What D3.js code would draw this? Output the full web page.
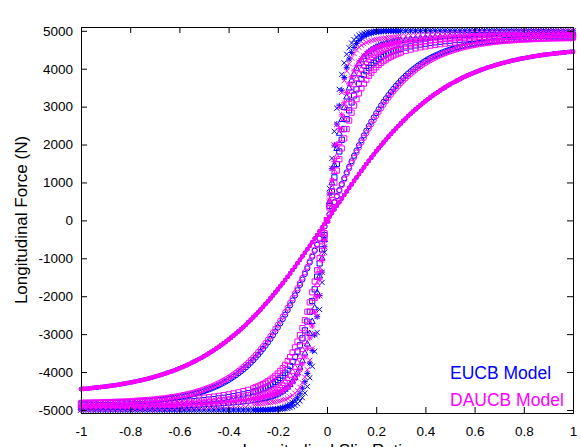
<!DOCTYPE html>
<html>
<head>
<meta charset="utf-8">
<script src="https://cdn.jsdelivr.net/npm/d3@7"></script>
<style>
  body { margin: 0; background: #fff; }
  svg { display: block; }
  text { font-family: "Liberation Sans", Arial, Helvetica, sans-serif; }
</style>
</head>
<body>
<svg id="chart" width="581" height="447"></svg>
<script>
// Longitudinal slip ratio samples for the steep curves (finer spacing near zero slip)
const slipRatio = [-1,-0.98,-0.96,-0.94,-0.92,-0.9,-0.88,-0.86,-0.84,-0.82,-0.8,-0.78,-0.76,-0.74,-0.72,-0.7,-0.68,-0.66,-0.64,-0.62,-0.6,-0.58,-0.56,-0.54,-0.52,-0.5,-0.48,-0.46,-0.44,-0.42,-0.4,-0.38,-0.36,-0.34,-0.32,-0.3,
  -0.29,-0.28,-0.27,-0.26,-0.25,-0.24,-0.23,-0.22,-0.21,-0.2,-0.19,-0.18,-0.17,-0.16,-0.15,-0.14,-0.13,-0.12,-0.11,-0.1,-0.09,-0.08,-0.07,-0.06,-0.05,-0.04,-0.03,-0.02,-0.01,
  0,
  0.01,0.02,0.03,0.04,0.05,0.06,0.07,0.08,0.09,0.1,0.11,0.12,0.13,0.14,0.15,0.16,0.17,0.18,0.19,0.2,0.21,0.22,0.23,0.24,0.25,0.26,0.27,0.28,0.29,
  0.3,0.32,0.34,0.36,0.38,0.4,0.42,0.44,0.46,0.48,0.5,0.52,0.54,0.56,0.58,0.6,0.62,0.64,0.66,0.68,0.7,0.72,0.74,0.76,0.78,0.8,0.82,0.84,0.86,0.88,0.9,0.92,0.94,0.96,0.98,1];

// Uniform slip ratio samples for the two gentle curves
const slipFine = [-1,-0.99,-0.98,-0.97,-0.96,-0.95,-0.94,-0.93,-0.92,-0.91,-0.9,-0.89,-0.88,-0.87,-0.86,-0.85,-0.84,-0.83,-0.82,-0.81,
  -0.8,-0.79,-0.78,-0.77,-0.76,-0.75,-0.74,-0.73,-0.72,-0.71,-0.7,-0.69,-0.68,-0.67,-0.66,-0.65,-0.64,-0.63,-0.62,-0.61,
  -0.6,-0.59,-0.58,-0.57,-0.56,-0.55,-0.54,-0.53,-0.52,-0.51,-0.5,-0.49,-0.48,-0.47,-0.46,-0.45,-0.44,-0.43,-0.42,-0.41,
  -0.4,-0.39,-0.38,-0.37,-0.36,-0.35,-0.34,-0.33,-0.32,-0.31,-0.3,-0.29,-0.28,-0.27,-0.26,-0.25,-0.24,-0.23,-0.22,-0.21,
  -0.2,-0.19,-0.18,-0.17,-0.16,-0.15,-0.14,-0.13,-0.12,-0.11,-0.1,-0.09,-0.08,-0.07,-0.06,-0.05,-0.04,-0.03,-0.02,-0.01,
  0,
  0.01,0.02,0.03,0.04,0.05,0.06,0.07,0.08,0.09,0.1,0.11,0.12,0.13,0.14,0.15,0.16,0.17,0.18,0.19,0.2,
  0.21,0.22,0.23,0.24,0.25,0.26,0.27,0.28,0.29,0.3,0.31,0.32,0.33,0.34,0.35,0.36,0.37,0.38,0.39,0.4,
  0.41,0.42,0.43,0.44,0.45,0.46,0.47,0.48,0.49,0.5,0.51,0.52,0.53,0.54,0.55,0.56,0.57,0.58,0.59,0.6,
  0.61,0.62,0.63,0.64,0.65,0.66,0.67,0.68,0.69,0.7,0.71,0.72,0.73,0.74,0.75,0.76,0.77,0.78,0.79,0.8,
  0.81,0.82,0.83,0.84,0.85,0.86,0.87,0.88,0.89,0.9,0.91,0.92,0.93,0.94,0.95,0.96,0.97,0.98,0.99,1];

// EUCB model, longitudinal force (N)
const eucbX = [-5000,-5000,-5000,-5000,-5000,-5000,-5000,-5000,-5000,-5000,-5000,-5000,-5000,-5000,-5000,-5000,-5000,-5000,-5000,-5000,-5000,-5000,-5000,-5000,-5000,-5000,-5000,-5000,-5000,-5000,-5000,-5000,-5000,-5000,-5000,-5000,
  -5000,-4999,-4999,-4999,-4998,-4997,-4996,-4994,-4992,-4989,-4984,-4978,-4969,-4956,-4939,-4915,-4881,-4834,-4767,-4677,-4552,-4382,-4153,-3850,-3455,-2957,-2349,-1637,-842,
  0,
  842,1637,2349,2957,3455,3850,4153,4382,4552,4677,4767,4834,4881,4915,4939,4956,4969,4978,4984,4989,4992,4994,4996,4997,4998,4999,4999,4999,5000,
  5000,5000,5000,5000,5000,5000,5000,5000,5000,5000,5000,5000,5000,5000,5000,5000,5000,5000,5000,5000,5000,5000,5000,5000,5000,5000,5000,5000,5000,5000,5000,5000,5000,5000,5000,5000];

const eucbStar = [-5000,-5000,-5000,-5000,-5000,-5000,-5000,-5000,-5000,-5000,-5000,-5000,-5000,-5000,-5000,-5000,-5000,-5000,-5000,-5000,-5000,-5000,-5000,-5000,-5000,-5000,-5000,-5000,-5000,-5000,-5000,-5000,-5000,-4999,-4999,-4998,
  -4997,-4996,-4995,-4993,-4991,-4988,-4984,-4979,-4972,-4963,-4951,-4935,-4915,-4888,-4852,-4805,-4744,-4665,-4560,-4427,-4254,-4038,-3766,-3429,-3022,-2540,-1985,-1364,-696,
  0,
  696,1364,1985,2540,3022,3429,3766,4038,4254,4427,4560,4665,4744,4805,4852,4888,4915,4935,4951,4963,4972,4979,4984,4988,4991,4993,4995,4996,4997,
  4998,4999,4999,5000,5000,5000,5000,5000,5000,5000,5000,5000,5000,5000,5000,5000,5000,5000,5000,5000,5000,5000,5000,5000,5000,5000,5000,5000,5000,5000,5000,5000,5000,5000,5000,5000];

const eucbTri = [-4939,-4938,-4937,-4936,-4935,-4933,-4932,-4930,-4928,-4926,-4924,-4922,-4919,-4917,-4914,-4910,-4907,-4903,-4899,-4895,-4890,-4885,-4879,-4873,-4867,-4860,-4853,-4845,-4837,-4828,-4817,-4806,-4794,-4780,-4765,-4748,
  -4739,-4728,-4716,-4703,-4688,-4673,-4653,-4631,-4606,-4577,-4543,-4501,-4451,-4394,-4323,-4238,-4138,-4017,-3872,-3699,-3496,-3257,-2980,-2662,-2301,-1901,-1463,-994,-503,
  0,
  503,994,1463,1901,2301,2662,2980,3257,3496,3699,3872,4017,4138,4238,4323,4394,4451,4501,4543,4577,4606,4631,4653,4673,4688,4703,4716,4728,4739,
  4748,4765,4780,4794,4806,4817,4828,4837,4845,4853,4860,4867,4873,4879,4885,4890,4895,4899,4903,4907,4910,4914,4917,4919,4922,4924,4926,4928,4930,4932,4933,4935,4936,4937,4938,4939];

const eucbSquare = [-4881,-4879,-4877,-4875,-4873,-4870,-4867,-4865,-4861,-4858,-4854,-4850,-4846,-4841,-4835,-4830,-4824,-4817,-4810,-4802,-4793,-4784,-4774,-4764,-4753,-4739,-4726,-4711,-4695,-4678,-4659,-4638,-4615,-4589,-4559,-4526,
  -4507,-4486,-4463,-4437,-4410,-4379,-4345,-4307,-4262,-4213,-4156,-4092,-4019,-3935,-3839,-3727,-3603,-3458,-3295,-3110,-2901,-2668,-2410,-2126,-1818,-1485,-1134,-765,-386,
  0,
  386,765,1134,1485,1818,2126,2410,2668,2901,3110,3295,3458,3603,3727,3839,3935,4019,4092,4156,4213,4262,4307,4345,4379,4410,4437,4463,4486,4507,
  4526,4559,4589,4615,4638,4659,4678,4695,4711,4726,4739,4753,4764,4774,4784,4793,4802,4810,4817,4824,4830,4835,4841,4846,4850,4854,4858,4861,4865,4867,4870,4873,4875,4877,4879,4881];

const eucbCircle = [-4818,-4817,-4817,-4816,-4815,-4814,-4812,-4811,-4810,-4808,
  -4807,-4805,-4803,-4801,-4800,-4798,-4795,-4793,-4790,-4787,
  -4785,-4782,-4778,-4775,-4771,-4767,-4762,-4758,-4753,-4748,
  -4742,-4736,-4730,-4723,-4715,-4707,-4699,-4690,-4681,-4671,
  -4660,-4648,-4637,-4622,-4610,-4593,-4578,-4561,-4545,-4523,
  -4504,-4481,-4458,-4433,-4406,-4378,-4348,-4317,-4282,-4248,
  -4209,-4170,-4126,-4083,-4034,-3985,-3932,-3876,-3817,-3754,
  -3690,-3619,-3546,-3469,-3389,-3305,-3218,-3126,-3030,-2930,
  -2826,-2717,-2604,-2487,-2366,-2241,-2112,-1979,-1843,-1703,
  -1560,-1414,-1265,-1112,-958,-801,-643,-484,-323,-162,
  0,
  162,323,484,643,801,958,1112,1265,1414,1560,
  1703,1843,1979,2112,2241,2366,2487,2604,2717,2826,
  2930,3030,3126,3218,3305,3389,3469,3546,3619,3690,
  3754,3817,3876,3932,3985,4034,4083,4126,4170,4209,
  4248,4282,4317,4348,4378,4406,4433,4458,4481,4504,
  4523,4545,4561,4578,4593,4610,4622,4637,4648,4660,
  4671,4681,4690,4699,4707,4715,4723,4730,4736,4742,
  4748,4753,4758,4762,4767,4771,4775,4778,4782,4785,
  4787,4790,4793,4795,4798,4800,4801,4803,4805,4807,
  4808,4810,4811,4812,4814,4815,4816,4817,4817,4818];

const eucbDot = [-4450,-4444,-4439,-4432,-4426,-4418,-4412,-4404,-4397,-4388,
  -4381,-4372,-4364,-4354,-4345,-4334,-4324,-4313,-4302,-4289,
  -4277,-4265,-4252,-4238,-4223,-4209,-4192,-4177,-4159,-4142,
  -4124,-4106,-4085,-4065,-4044,-4023,-3999,-3978,-3952,-3928,
  -3901,-3875,-3846,-3818,-3788,-3757,-3724,-3692,-3657,-3622,
  -3585,-3548,-3507,-3467,-3425,-3381,-3337,-3291,-3243,-3195,
  -3144,-3093,-3039,-2985,-2928,-2871,-2811,-2751,-2688,-2624,
  -2558,-2491,-2423,-2353,-2281,-2208,-2133,-2057,-1979,-1900,
  -1820,-1738,-1655,-1571,-1485,-1398,-1310,-1221,-1132,-1041,
  -949,-856,-763,-669,-575,-480,-384,-288,-192,-96,
  0,
  96,192,288,384,480,575,669,763,856,949,
  1041,1132,1221,1310,1398,1485,1571,1655,1738,1820,
  1900,1979,2057,2133,2208,2281,2353,2423,2491,2558,
  2624,2688,2751,2811,2871,2928,2985,3039,3093,3144,
  3195,3243,3291,3337,3381,3425,3467,3507,3548,3585,
  3622,3657,3692,3724,3757,3788,3818,3846,3875,3901,
  3928,3952,3978,3999,4023,4044,4065,4085,4106,4124,
  4142,4159,4177,4192,4209,4223,4238,4252,4265,4277,
  4289,4302,4313,4324,4334,4345,4354,4364,4372,4381,
  4388,4397,4404,4412,4418,4426,4432,4439,4444,4450];

// DAUCB model, longitudinal force (N)
const daucbX = [-4991,-4991,-4990,-4989,-4988,-4987,-4986,-4984,-4983,-4982,-4980,-4978,-4976,-4974,-4972,-4969,-4967,-4964,-4960,-4957,-4953,-4949,-4945,-4940,-4935,-4930,-4924,-4918,-4912,-4905,-4897,-4889,-4881,-4872,-4862,-4851,
  -4846,-4840,-4833,-4827,-4820,-4812,-4804,-4794,-4784,-4772,-4757,-4740,-4719,-4692,-4659,-4618,-4562,-4493,-4402,-4285,-4133,-3938,-3688,-3377,-2991,-2528,-1985,-1370,-700,
  0,
  700,1370,1985,2528,2991,3377,3688,3938,4133,4285,4402,4493,4562,4618,4659,4692,4719,4740,4757,4772,4784,4794,4804,4812,4820,4827,4833,4840,4846,
  4851,4862,4872,4881,4889,4897,4905,4912,4918,4924,4930,4935,4940,4945,4949,4953,4957,4960,4964,4967,4969,4972,4974,4976,4978,4980,4982,4983,4984,4986,4987,4988,4989,4990,4991,4991];

const daucbStar = [-4937,-4935,-4934,-4933,-4931,-4929,-4928,-4926,-4923,-4921,-4918,-4916,-4913,-4909,-4906,-4902,-4897,-4893,-4888,-4883,-4877,-4870,-4864,-4856,-4849,-4840,-4831,-4822,-4811,-4800,-4789,-4775,-4761,-4746,-4730,-4711,
  -4702,-4691,-4679,-4667,-4653,-4638,-4622,-4603,-4580,-4555,-4525,-4491,-4451,-4401,-4341,-4269,-4181,-4074,-3945,-3787,-3598,-3371,-3102,-2786,-2423,-2011,-1555,-1060,-537,
  0,
  537,1060,1555,2011,2423,2786,3102,3371,3598,3787,3945,4074,4181,4269,4341,4401,4451,4491,4525,4555,4580,4603,4622,4638,4653,4667,4679,4691,4702,
  4711,4730,4746,4761,4775,4789,4800,4811,4822,4831,4840,4849,4856,4864,4870,4877,4883,4888,4893,4897,4902,4906,4909,4913,4916,4918,4921,4923,4926,4928,4929,4931,4933,4934,4935,4937];

const daucbTri = [-4885,-4884,-4883,-4881,-4879,-4878,-4876,-4873,-4871,-4868,-4866,-4862,-4859,-4855,-4852,-4847,-4843,-4838,-4832,-4826,-4820,-4813,-4806,-4798,-4789,-4780,-4770,-4760,-4748,-4735,-4721,-4706,-4690,-4671,-4650,-4626,
  -4612,-4597,-4581,-4563,-4542,-4520,-4494,-4466,-4432,-4393,-4349,-4297,-4237,-4166,-4083,-3986,-3872,-3740,-3584,-3405,-3197,-2960,-2691,-2388,-2053,-1687,-1293,-875,-442,
  0,
  442,875,1293,1687,2053,2388,2691,2960,3197,3405,3584,3740,3872,3986,4083,4166,4237,4297,4349,4393,4432,4466,4494,4520,4542,4563,4581,4597,4612,
  4626,4650,4671,4690,4706,4721,4735,4748,4760,4770,4780,4789,4798,4806,4813,4820,4826,4832,4838,4843,4847,4852,4855,4859,4862,4866,4868,4871,4873,4876,4878,4879,4881,4883,4884,4885];

const daucbSquare = [-4829,-4827,-4825,-4823,-4821,-4818,-4815,-4812,-4809,-4805,-4801,-4797,-4792,-4787,-4781,-4775,-4769,-4762,-4754,-4746,-4737,-4726,-4716,-4703,-4691,-4677,-4662,-4647,-4629,-4609,-4587,-4563,-4536,-4504,-4468,-4427,
  -4402,-4377,-4348,-4316,-4281,-4243,-4200,-4153,-4099,-4039,-3971,-3895,-3810,-3711,-3606,-3484,-3349,-3196,-3028,-2840,-2634,-2408,-2162,-1897,-1613,-1313,-998,-671,-338,
  0,
  338,671,998,1313,1613,1897,2162,2408,2634,2840,3028,3196,3349,3484,3606,3711,3810,3895,3971,4039,4099,4153,4200,4243,4281,4316,4348,4377,4402,
  4427,4468,4504,4536,4563,4587,4609,4629,4647,4662,4677,4691,4703,4716,4726,4737,4746,4754,4762,4769,4775,4781,4787,4792,4797,4801,4805,4809,4812,4815,4818,4821,4823,4825,4827,4829];

const daucbCircle = [-4801,-4800,-4799,-4798,-4796,-4795,-4794,-4792,-4791,-4789,
  -4788,-4786,-4784,-4781,-4779,-4776,-4774,-4772,-4768,-4765,
  -4762,-4759,-4754,-4751,-4746,-4742,-4737,-4732,-4726,-4721,
  -4714,-4708,-4700,-4693,-4685,-4676,-4667,-4657,-4648,-4636,
  -4625,-4611,-4599,-4583,-4570,-4553,-4536,-4517,-4498,-4477,
  -4456,-4433,-4408,-4382,-4355,-4324,-4293,-4261,-4225,-4189,
  -4149,-4108,-4064,-4018,-3969,-3918,-3863,-3807,-3746,-3683,
  -3616,-3546,-3472,-3396,-3315,-3231,-3143,-3051,-2955,-2856,
  -2753,-2644,-2534,-2419,-2300,-2177,-2051,-1921,-1788,-1652,
  -1512,-1370,-1224,-1077,-927,-776,-622,-468,-313,-156,
  0,
  156,313,468,622,776,927,1077,1224,1370,1512,
  1652,1788,1921,2051,2177,2300,2419,2534,2644,2753,
  2856,2955,3051,3143,3231,3315,3396,3472,3546,3616,
  3683,3746,3807,3863,3918,3969,4018,4064,4108,4149,
  4189,4225,4261,4293,4324,4355,4382,4408,4433,4456,
  4477,4498,4517,4536,4553,4570,4583,4599,4611,4625,
  4636,4648,4657,4667,4676,4685,4693,4700,4708,4714,
  4721,4726,4732,4737,4742,4746,4751,4754,4759,4762,
  4765,4768,4772,4774,4776,4779,4781,4784,4786,4788,
  4789,4791,4792,4794,4795,4796,4798,4799,4800,4801];

const daucbDot = eucbDot;

// Axis ticks
const xTickValues = [-1, -0.8, -0.6, -0.4, -0.2, 0, 0.2, 0.4, 0.6, 0.8, 1];
const xTickLabels = ["-1", "-0.8", "-0.6", "-0.4", "-0.2", "0", "0.2", "0.4", "0.6", "0.8", "1"];
const yTickValues = [-5000, -4000, -3000, -2000, -1000, 0, 1000, 2000, 3000, 4000, 5000];
const yTickLabels = ["-5000", "-4000", "-3000", "-2000", "-1000", "0", "1000", "2000", "3000", "4000", "5000"];

// Point markers
const markerShapes = {
  dot:      { draw(c, h) { c.moveTo(h, 0); c.arc(0, 0, h, 0, 2 * Math.PI); } },
  cross:    { draw(c, h) { c.moveTo(-h, -h); c.lineTo(h, h); c.moveTo(-h, h); c.lineTo(h, -h); } },
  star:     { draw(c, h) { c.moveTo(-h, 0); c.lineTo(h, 0); c.moveTo(0, -h); c.lineTo(0, h);
                           const d = h * 0.75; c.moveTo(-d, -d); c.lineTo(d, d); c.moveTo(-d, d); c.lineTo(d, -d); } },
  square:   { draw(c, h) { c.rect(-h, -h, 2 * h, 2 * h); } },
  triangle: { draw(c, h) { c.moveTo(0, -h * 1.2); c.lineTo(h * 1.1, h * 0.8); c.lineTo(-h * 1.1, h * 0.8); c.closePath(); } },
  circle:   { draw(c, h) { c.moveTo(h, 0); c.arc(0, 0, h, 0, 2 * Math.PI); } }
};

const BLUE = "#0000ff", MAGENTA = "#ff00ff";
const series = [
  { slip: slipFine,  values: eucbDot,     color: BLUE,    marker: "dot",      size: 2.3, filled: true },
  { slip: slipFine,  values: eucbCircle,  color: BLUE,    marker: "circle",   size: 2.6 },
  { slip: slipRatio, values: eucbSquare,  color: BLUE,    marker: "square",   size: 2.6 },
  { slip: slipRatio, values: eucbTri,     color: BLUE,    marker: "triangle", size: 2.7 },
  { slip: slipRatio, values: eucbStar,    color: BLUE,    marker: "star",     size: 3 },
  { slip: slipRatio, values: eucbX,       color: BLUE,    marker: "cross",    size: 2.6 },
  { slip: slipFine,  values: daucbDot,    color: MAGENTA, marker: "dot",      size: 2.3, filled: true },
  { slip: slipFine,  values: daucbCircle, color: MAGENTA, marker: "circle",   size: 2.6 },
  { slip: slipRatio, values: daucbSquare, color: MAGENTA, marker: "square",   size: 2.6 },
  { slip: slipRatio, values: daucbTri,    color: MAGENTA, marker: "triangle", size: 2.7 },
  { slip: slipRatio, values: daucbStar,   color: MAGENTA, marker: "star",     size: 3 },
  { slip: slipRatio, values: daucbX,      color: MAGENTA, marker: "cross",    size: 2.6 }
];

const plot = { left: 81, right: 573, top: 27, bottom: 413 };
const x = d3.scaleLinear().domain([-1, 1]).range([plot.left, plot.right]);
const y = d3.scaleLinear().domain([-5080, 5100]).range([plot.bottom, plot.top]);

const svg = d3.select("#chart");
svg.append("rect").attr("width", 581).attr("height", 447).attr("fill", "#fff");

// Data points
const pointsLayer = svg.append("g");
series.forEach(s => {
  const sym = d3.symbol().type(markerShapes[s.marker]).size(s.size);
  const n = Math.min(s.slip.length, s.values.length);
  const pts = d3.range(n).map(i => [s.slip[i], s.values[i]]);
  pointsLayer.append("g")
    .attr("fill", s.filled ? s.color : "none")
    .attr("stroke", s.filled ? "none" : s.color)
    .attr("stroke-width", 1)
    .selectAll("path")
    .data(pts)
    .join("path")
    .attr("transform", d => `translate(${x(d[0])},${y(d[1])})`)
    .attr("d", sym);
});

// Axes with inward ticks on all four sides
const tickFont = 13.5;
const fmtX = d => xTickLabels[xTickValues.indexOf(d)];
const fmtY = d => yTickLabels[yTickValues.indexOf(d)];

const gLeft = svg.append("g").attr("transform", `translate(${plot.left},0)`)
  .call(d3.axisLeft(y).tickValues(yTickValues).tickFormat(fmtY).tickSizeInner(-6).tickSizeOuter(0).tickPadding(8));
const gBottom = svg.append("g").attr("transform", `translate(0,${plot.bottom})`)
  .call(d3.axisBottom(x).tickValues(xTickValues).tickFormat(fmtX).tickSizeInner(-6).tickSizeOuter(0).tickPadding(13));
const gRight = svg.append("g").attr("transform", `translate(${plot.right},0)`)
  .call(d3.axisRight(y).tickValues(yTickValues).tickFormat("").tickSizeInner(-6).tickSizeOuter(0));
const gTop = svg.append("g").attr("transform", `translate(0,${plot.top})`)
  .call(d3.axisTop(x).tickValues(xTickValues).tickFormat("").tickSizeInner(-6).tickSizeOuter(0));

[gLeft, gBottom, gRight, gTop].forEach(g => {
  g.select(".domain").remove();
  g.selectAll(".tick line").attr("stroke", "#000");
  g.selectAll("text").attr("fill", "#000").style("font-size", tickFont + "px")
    .style("font-family", '"Liberation Sans", Arial, sans-serif');
});

// Plot border
svg.append("rect")
  .attr("x", plot.left + 0.5).attr("y", plot.top + 0.5)
  .attr("width", plot.right - plot.left).attr("height", plot.bottom - plot.top)
  .attr("fill", "none").attr("stroke", "#000").attr("stroke-width", 1);

// Axis titles
svg.append("text")
  .attr("transform", `translate(27,${(plot.top + plot.bottom) / 2}) rotate(-90)`)
  .attr("text-anchor", "middle")
  .style("font-size", "17px")
  .attr("fill", "#000")
  .text("Longitudinal Force (N)");

svg.append("text")
  .attr("x", (plot.left + plot.right) / 2)
  .attr("y", 456)
  .attr("text-anchor", "middle")
  .style("font-size", "17px")
  .attr("fill", "#000")
  .text("Longitudinal Slip Ratio");

// Legend
const legend = [
  { label: "EUCB Model", color: BLUE },
  { label: "DAUCB Model", color: MAGENTA }
];
svg.append("g").selectAll("text")
  .data(legend)
  .join("text")
  .attr("x", 450)
  .attr("y", (d, i) => 379 + i * 27)
  .style("font-size", "17.5px")
  .attr("fill", d => d.color)
  .text(d => d.label);
</script>
</body>
</html>
